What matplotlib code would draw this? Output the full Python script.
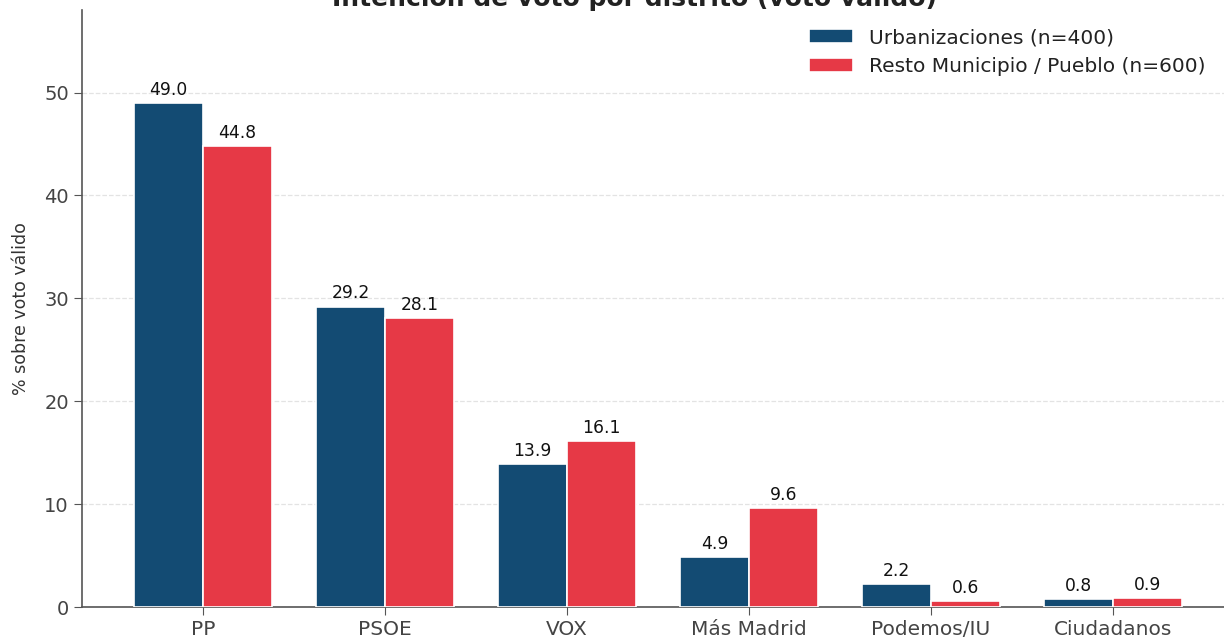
import matplotlib.pyplot as plt
import numpy as np

plt.rcParams["font.family"] = ["DejaVu Sans"]

partidos = ["PP", "PSOE", "VOX", "Más Madrid", "Podemos/IU", "Ciudadanos"]
urbanizaciones = [49.0, 29.2, 13.9, 4.9, 2.2, 0.8]
resto = [44.8, 28.1, 16.1, 9.6, 0.6, 0.9]

AZUL = "#134B73"
ROJO = "#E63946"

fig = plt.figure(figsize=(12.24, 6.39), dpi=100)
ax = fig.add_axes([0.067, 0.050, 0.933, 0.934])

x = np.arange(len(partidos))
w = 0.38
b1 = ax.bar(x - w / 2, urbanizaciones, w, color=AZUL, edgecolor="white", lw=1.2,
            label="Urbanizaciones (n=400)", zorder=3)
b2 = ax.bar(x + w / 2, resto, w, color=ROJO, edgecolor="white", lw=1.2,
            label="Resto Municipio / Pueblo (n=600)", zorder=3)

for bars, vals in ((b1, urbanizaciones), (b2, resto)):
    for rect, v in zip(bars, vals):
        ax.text(rect.get_x() + rect.get_width() / 2, v + 0.4, f"{v:.1f}",
                ha="center", va="bottom", fontsize=12.3, color="#111111")

ax.set_xticks(x)
ax.set_xticklabels(partidos, fontsize=14.5, color="#444444")
ax.set_xlim(-0.665, 5.61)
ax.set_ylim(0, 58)
ax.set_yticks([0, 10, 20, 30, 40, 50])
ax.tick_params(axis="y", labelsize=14, labelcolor="#444444", color="#555555", length=6)
ax.tick_params(axis="x", color="#555555", length=6)
ax.set_ylabel("% sobre voto válido", fontsize=12.5, color="#333333", labelpad=10)

ax.grid(axis="y", ls="--", color="#e3e3e3", lw=0.9, zorder=0)
ax.spines["top"].set_visible(False)
ax.spines["right"].set_visible(False)
ax.spines["left"].set_color("#555555")
ax.spines["bottom"].set_color("#555555")
ax.spines["left"].set_linewidth(1.2)
ax.spines["bottom"].set_linewidth(1.2)

ax.legend(loc="upper right", frameon=False, fontsize=14.5, bbox_to_anchor=(1.0, 1.0),
          handlelength=2.2, labelcolor="#222222")

fig.text(0.518, 0.9906, "Intención de voto por distrito (voto válido)", ha="center",
         va="baseline", fontsize=18, fontweight="bold", color="#222222")

fig.savefig("out.png", dpi=100)
